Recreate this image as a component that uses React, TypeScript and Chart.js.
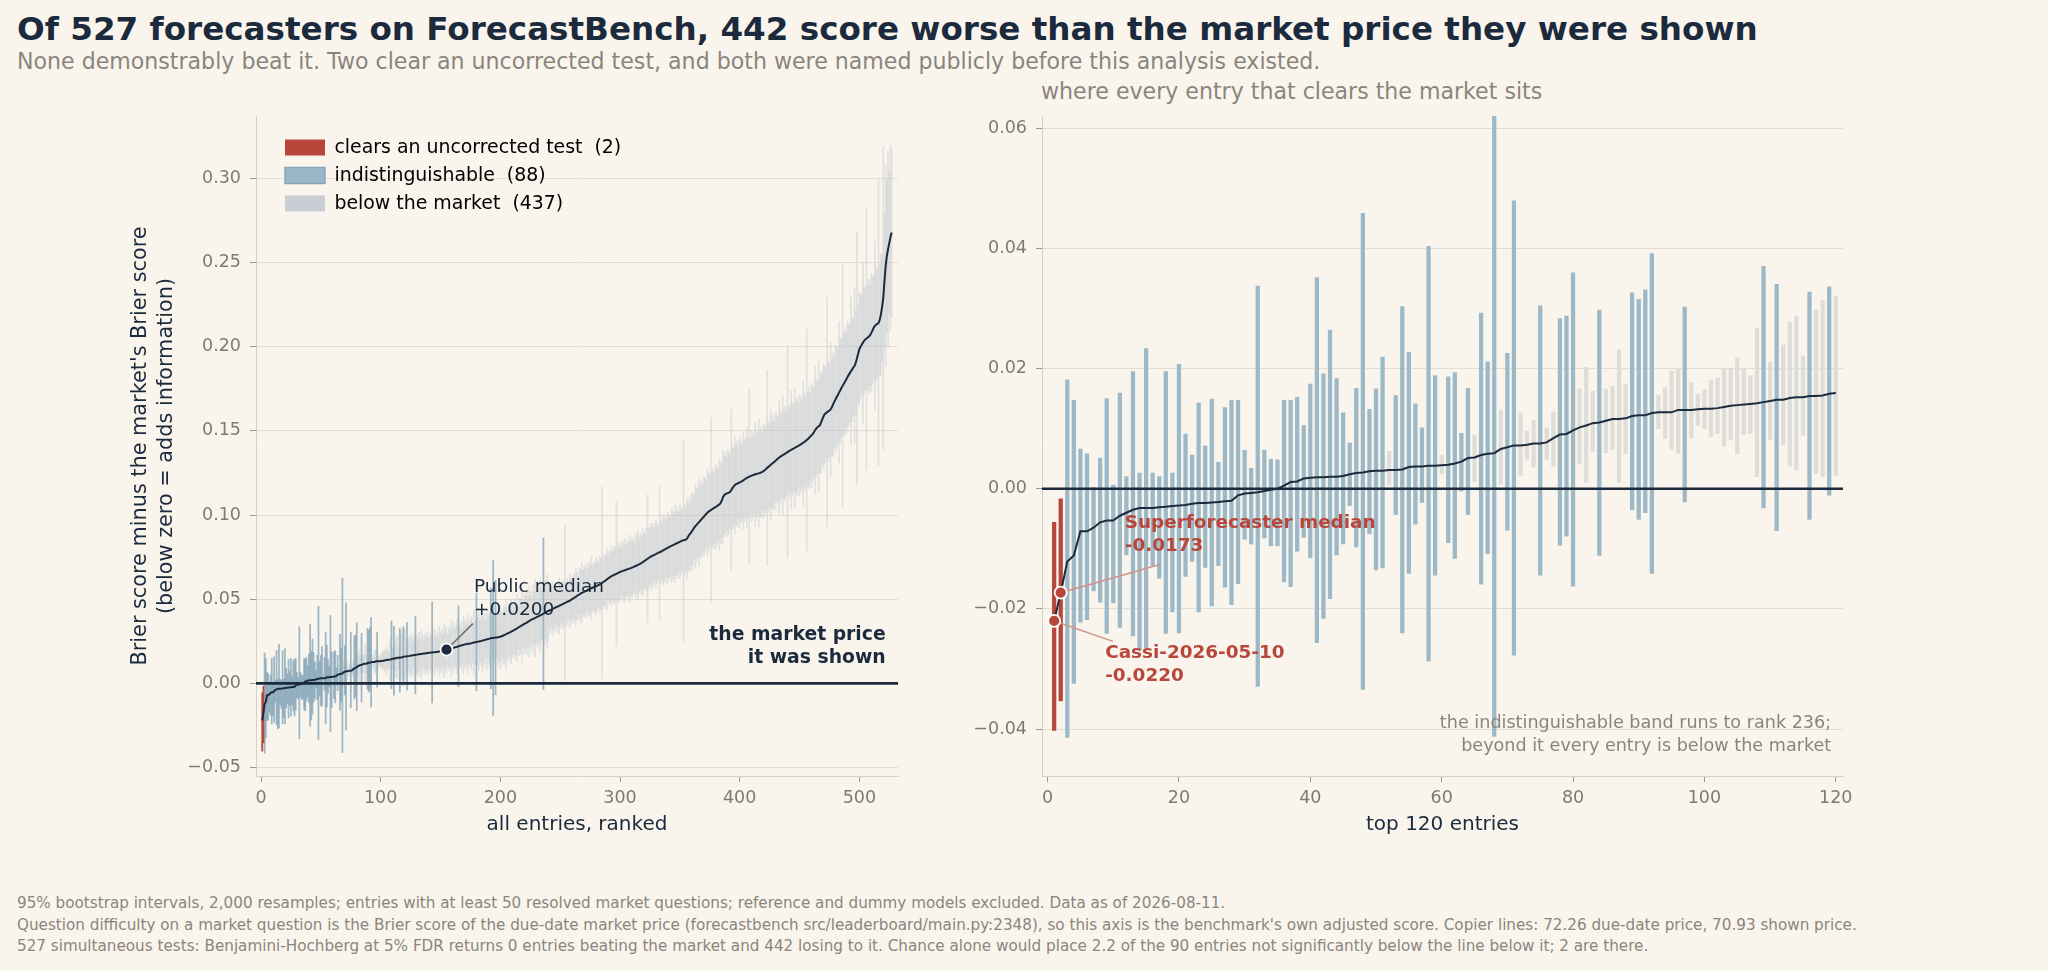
import { useEffect, useRef } from "react";
import { Chart, registerables } from "chart.js";
import type { ChartConfiguration, Plugin } from "chart.js";

Chart.register(...registerables);

const FONT = "'DejaVu Sans', sans-serif";
const BG = "#f9f5ed";
const INK = "#1b2a3c";
const MUTED = "#8a857c";
const TICK = "#7d7a75";
const TICK_MARK = "#9a968f";
const GRID = "#e3ded4";
const SPINE = "#d6d1c7";
const RED = "#b8463b";

// ranks 1-120
const TOP_SCORE = [
  -0.0220, -0.0173, -0.0121, -0.0111, -0.0071, -0.0071, -0.0065, -0.0056, -0.0053, -0.0053,
  -0.0045, -0.0040, -0.0035, -0.0032, -0.0032, -0.0032, -0.0031, -0.0030, -0.0029, -0.0028,
  -0.0027, -0.0025, -0.0024, -0.0024, -0.0023, -0.0022, -0.0021, -0.0020, -0.0011, -0.0008,
  -0.0007, -0.0006, -0.0004, -0.0002, 0.0000, 0.0005, 0.0011, 0.0012, 0.0017, 0.0018,
  0.0019, 0.0019, 0.0020, 0.0020, 0.0021, 0.0024, 0.0026, 0.0027, 0.0029, 0.0030,
  0.0030, 0.0031, 0.0031, 0.0032, 0.0036, 0.0037, 0.0037, 0.0038, 0.0038, 0.0039,
  0.0040, 0.0042, 0.0045, 0.0051, 0.0052, 0.0056, 0.0058, 0.0059, 0.0066, 0.0069,
  0.0072, 0.0072, 0.0073, 0.0075, 0.0075, 0.0077, 0.0084, 0.0090, 0.0091, 0.0097,
  0.0102, 0.0105, 0.0109, 0.0110, 0.0113, 0.0116, 0.0116, 0.0117, 0.0121, 0.0122,
  0.0122, 0.0126, 0.0127, 0.0127, 0.0127, 0.0131, 0.0131, 0.0131, 0.0132, 0.0133,
  0.0133, 0.0134, 0.0136, 0.0138, 0.0139, 0.0140, 0.0141, 0.0142, 0.0144, 0.0146,
  0.0148, 0.0148, 0.0151, 0.0152, 0.0152, 0.0154, 0.0154, 0.0155, 0.0158, 0.0159,
];
const TOP_LO = [
  -0.0402, -0.0353, -0.0414, -0.0324, -0.0222, -0.0218, -0.0170, -0.0189, -0.0241, -0.0190,
  -0.0231, -0.0110, -0.0245, -0.0269, -0.0265, -0.0128, -0.0149, -0.0241, -0.0205, -0.0240,
  -0.0146, -0.0121, -0.0205, -0.0131, -0.0195, -0.0128, -0.0164, -0.0193, -0.0158, -0.0084,
  -0.0092, -0.0329, -0.0082, -0.0095, -0.0095, -0.0155, -0.0163, -0.0104, -0.0081, -0.0115,
  -0.0256, -0.0216, -0.0183, -0.0110, -0.0092, -0.0028, -0.0097, -0.0334, -0.0075, -0.0135,
  -0.0132, 0.0006, -0.0043, -0.0240, -0.0141, -0.0059, -0.0023, -0.0287, -0.0144, 0.0025,
  -0.0090, -0.0116, -0.0004, -0.0043, 0.0012, -0.0159, -0.0108, -0.0412, 0.0007, -0.0069,
  -0.0277, 0.0022, 0.0049, 0.0036, -0.0144, 0.0049, 0.0038, -0.0094, -0.0079, -0.0162,
  0.0042, 0.0011, 0.0062, -0.0111, 0.0060, 0.0065, 0.0011, 0.0058, -0.0035, -0.0051,
  -0.0040, -0.0141, 0.0100, 0.0084, 0.0065, 0.0059, -0.0022, 0.0084, 0.0105, 0.0100,
  0.0087, 0.0092, 0.0071, 0.0082, 0.0058, 0.0090, 0.0092, 0.0020, -0.0032, 0.0082,
  -0.0070, 0.0073, 0.0038, 0.0031, 0.0089, -0.0051, 0.0025, 0.0020, -0.0011, 0.0022,
];
const TOP_HI = [
  -0.0056, -0.0017, 0.0181, 0.0147, 0.0066, 0.0058, 0.0002, 0.0051, 0.0150, 0.0006,
  0.0159, 0.0020, 0.0195, 0.0026, 0.0233, 0.0026, 0.0020, 0.0195, 0.0026, 0.0207,
  0.0091, 0.0056, 0.0143, 0.0071, 0.0149, 0.0044, 0.0135, 0.0147, 0.0147, 0.0064,
  0.0034, 0.0337, 0.0064, 0.0049, 0.0048, 0.0147, 0.0147, 0.0152, 0.0105, 0.0174,
  0.0351, 0.0191, 0.0264, 0.0183, 0.0126, 0.0076, 0.0167, 0.0458, 0.0132, 0.0166,
  0.0219, 0.0062, 0.0155, 0.0303, 0.0227, 0.0141, 0.0101, 0.0403, 0.0188, 0.0056,
  0.0186, 0.0193, 0.0092, 0.0167, 0.0089, 0.0292, 0.0211, 0.0625, 0.0130, 0.0225,
  0.0479, 0.0126, 0.0096, 0.0114, 0.0304, 0.0101, 0.0128, 0.0283, 0.0287, 0.0359,
  0.0166, 0.0202, 0.0162, 0.0297, 0.0166, 0.0170, 0.0231, 0.0174, 0.0326, 0.0315,
  0.0331, 0.0391, 0.0155, 0.0168, 0.0196, 0.0199, 0.0302, 0.0177, 0.0157, 0.0165,
  0.0181, 0.0184, 0.0199, 0.0199, 0.0217, 0.0200, 0.0188, 0.0267, 0.0370, 0.0210,
  0.0340, 0.0239, 0.0277, 0.0287, 0.0221, 0.0327, 0.0298, 0.0313, 0.0336, 0.0320,
];

// ranks 121-527; their intervals are drawn symmetric
const REST_SCORE = [
  0.0160, 0.0161, 0.0162, 0.0163, 0.0165, 0.0166, 0.0167, 0.0168, 0.0169, 0.0171,
  0.0172, 0.0173, 0.0174, 0.0175, 0.0176, 0.0177, 0.0178, 0.0179, 0.0180, 0.0181,
  0.0182, 0.0183, 0.0184, 0.0185, 0.0185, 0.0186, 0.0187, 0.0188, 0.0190, 0.0191,
  0.0193, 0.0195, 0.0197, 0.0198, 0.0200, 0.0202, 0.0204, 0.0206, 0.0208, 0.0210,
  0.0212, 0.0214, 0.0216, 0.0218, 0.0221, 0.0223, 0.0225, 0.0227, 0.0229, 0.0231,
  0.0232, 0.0234, 0.0235, 0.0236, 0.0237, 0.0239, 0.0241, 0.0243, 0.0245, 0.0246,
  0.0248, 0.0249, 0.0251, 0.0252, 0.0254, 0.0256, 0.0258, 0.0260, 0.0262, 0.0264,
  0.0266, 0.0268, 0.0269, 0.0270, 0.0271, 0.0272, 0.0273, 0.0274, 0.0275, 0.0277,
  0.0280, 0.0283, 0.0287, 0.0290, 0.0293, 0.0297, 0.0300, 0.0303, 0.0307, 0.0311,
  0.0315, 0.0319, 0.0323, 0.0327, 0.0332, 0.0336, 0.0341, 0.0345, 0.0349, 0.0353,
  0.0357, 0.0361, 0.0366, 0.0370, 0.0375, 0.0379, 0.0382, 0.0385, 0.0389, 0.0392,
  0.0396, 0.0399, 0.0403, 0.0407, 0.0410, 0.0414, 0.0418, 0.0422, 0.0426, 0.0430,
  0.0433, 0.0437, 0.0440, 0.0444, 0.0447, 0.0451, 0.0454, 0.0457, 0.0460, 0.0464,
  0.0467, 0.0471, 0.0474, 0.0478, 0.0481, 0.0485, 0.0488, 0.0492, 0.0496, 0.0501,
  0.0505, 0.0510, 0.0514, 0.0519, 0.0524, 0.0528, 0.0533, 0.0537, 0.0541, 0.0544,
  0.0548, 0.0551, 0.0555, 0.0558, 0.0562, 0.0565, 0.0568, 0.0571, 0.0574, 0.0577,
  0.0581, 0.0584, 0.0587, 0.0591, 0.0597, 0.0602, 0.0607, 0.0612, 0.0618, 0.0623,
  0.0628, 0.0633, 0.0637, 0.0641, 0.0644, 0.0648, 0.0651, 0.0655, 0.0658, 0.0662,
  0.0665, 0.0667, 0.0670, 0.0672, 0.0675, 0.0677, 0.0680, 0.0682, 0.0685, 0.0688,
  0.0691, 0.0694, 0.0697, 0.0700, 0.0704, 0.0707, 0.0711, 0.0715, 0.0720, 0.0725,
  0.0730, 0.0735, 0.0740, 0.0745, 0.0750, 0.0754, 0.0758, 0.0761, 0.0765, 0.0768,
  0.0772, 0.0775, 0.0779, 0.0782, 0.0786, 0.0790, 0.0794, 0.0798, 0.0802, 0.0806,
  0.0810, 0.0814, 0.0817, 0.0820, 0.0824, 0.0827, 0.0831, 0.0834, 0.0838, 0.0841,
  0.0845, 0.0848, 0.0850, 0.0852, 0.0854, 0.0860, 0.0872, 0.0884, 0.0893, 0.0903,
  0.0913, 0.0925, 0.0934, 0.0942, 0.0950, 0.0958, 0.0966, 0.0974, 0.0982, 0.0990,
  0.0998, 0.1006, 0.1014, 0.1020, 0.1025, 0.1030, 0.1035, 0.1039, 0.1044, 0.1048,
  0.1053, 0.1058, 0.1063, 0.1070, 0.1085, 0.1105, 0.1118, 0.1124, 0.1127, 0.1130,
  0.1133, 0.1138, 0.1148, 0.1160, 0.1170, 0.1178, 0.1183, 0.1187, 0.1190, 0.1194,
  0.1197, 0.1201, 0.1206, 0.1211, 0.1216, 0.1220, 0.1224, 0.1228, 0.1231, 0.1234,
  0.1237, 0.1239, 0.1242, 0.1244, 0.1246, 0.1248, 0.1250, 0.1253, 0.1256, 0.1262,
  0.1268, 0.1274, 0.1280, 0.1286, 0.1292, 0.1298, 0.1304, 0.1311, 0.1317, 0.1323,
  0.1330, 0.1336, 0.1342, 0.1347, 0.1351, 0.1356, 0.1360, 0.1365, 0.1369, 0.1374,
  0.1379, 0.1383, 0.1387, 0.1391, 0.1395, 0.1399, 0.1403, 0.1407, 0.1411, 0.1415,
  0.1420, 0.1424, 0.1429, 0.1434, 0.1439, 0.1445, 0.1452, 0.1459, 0.1466, 0.1473,
  0.1480, 0.1492, 0.1504, 0.1514, 0.1521, 0.1527, 0.1533, 0.1550, 0.1568, 0.1585,
  0.1599, 0.1605, 0.1611, 0.1616, 0.1621, 0.1627, 0.1640, 0.1656, 0.1672, 0.1686,
  0.1700, 0.1713, 0.1727, 0.1740, 0.1754, 0.1767, 0.1780, 0.1792, 0.1805, 0.1818,
  0.1831, 0.1843, 0.1854, 0.1865, 0.1876, 0.1886, 0.1905, 0.1930, 0.1958, 0.1985,
  0.1999, 0.2012, 0.2024, 0.2035, 0.2042, 0.2048, 0.2054, 0.2060, 0.2068, 0.2082,
  0.2096, 0.2112, 0.2124, 0.2130, 0.2135, 0.2140, 0.2158, 0.2190, 0.2235, 0.2290,
  0.2390, 0.2480, 0.2540, 0.2580, 0.2615, 0.2650, 0.2678,
];
const REST_HALF = [
  0.011, 0.020, 0.009, 0.012, 0.010, 0.013, 0.008, 0.011, 0.023, 0.012,
  0.010, 0.013, 0.009, 0.014, 0.011, 0.008, 0.012, 0.010, 0.013, 0.009,
  0.012, 0.010, 0.030, 0.011, 0.014, 0.009, 0.012, 0.010, 0.015, 0.011,
  0.013, 0.010, 0.016, 0.012, 0.014, 0.009, 0.013, 0.011, 0.017, 0.012,
  0.015, 0.011, 0.013, 0.016, 0.024, 0.012, 0.014, 0.010, 0.017, 0.013,
  0.015, 0.012, 0.018, 0.011, 0.014, 0.016, 0.012, 0.019, 0.013, 0.029,
  0.014, 0.017, 0.012, 0.015, 0.019, 0.013, 0.016, 0.011, 0.018, 0.014,
  0.016, 0.030, 0.013, 0.046, 0.015, 0.034, 0.012, 0.017, 0.014, 0.019,
  0.015, 0.013, 0.018, 0.016, 0.021, 0.014, 0.017, 0.013, 0.019, 0.016,
  0.014, 0.018, 0.015, 0.020, 0.013, 0.017, 0.016, 0.022, 0.014, 0.018,
  0.016, 0.019, 0.015, 0.021, 0.017, 0.014, 0.020, 0.016, 0.023, 0.015,
  0.018, 0.016, 0.021, 0.017, 0.015, 0.045, 0.019, 0.016, 0.022, 0.018,
  0.012, 0.014, 0.011, 0.016, 0.013, 0.010, 0.015, 0.012, 0.017, 0.013,
  0.011, 0.015, 0.013, 0.046, 0.012, 0.014, 0.011, 0.016, 0.013, 0.012,
  0.015, 0.013, 0.017, 0.014, 0.011, 0.016, 0.014, 0.018, 0.013, 0.015,
  0.014, 0.016, 0.012, 0.016, 0.014, 0.019, 0.013, 0.015, 0.014, 0.017,
  0.015, 0.013, 0.017, 0.015, 0.057, 0.014, 0.016, 0.015, 0.018, 0.013,
  0.016, 0.015, 0.018, 0.014, 0.017, 0.016, 0.043, 0.015, 0.018, 0.016,
  0.014, 0.018, 0.016, 0.019, 0.015, 0.017, 0.016, 0.020, 0.016, 0.018,
  0.016, 0.015, 0.019, 0.017, 0.021, 0.016, 0.018, 0.016, 0.020, 0.017,
  0.016, 0.019, 0.038, 0.018, 0.016, 0.020, 0.017, 0.019, 0.016, 0.020,
  0.018, 0.016, 0.040, 0.019, 0.017, 0.021, 0.018, 0.020, 0.017, 0.021,
  0.019, 0.017, 0.022, 0.020, 0.018, 0.023, 0.019, 0.021, 0.018, 0.022,
  0.020, 0.018, 0.060, 0.021, 0.019, 0.024, 0.020, 0.022, 0.019, 0.023,
  0.021, 0.019, 0.025, 0.022, 0.020, 0.026, 0.021, 0.023, 0.020, 0.024,
  0.022, 0.020, 0.026, 0.023, 0.021, 0.055, 0.022, 0.024, 0.021, 0.025,
  0.023, 0.021, 0.027, 0.024, 0.022, 0.028, 0.023, 0.025, 0.022, 0.026,
  0.024, 0.022, 0.048, 0.025, 0.023, 0.029, 0.024, 0.026, 0.022, 0.027,
  0.024, 0.022, 0.029, 0.025, 0.023, 0.030, 0.024, 0.052, 0.023, 0.027,
  0.025, 0.023, 0.031, 0.026, 0.024, 0.032, 0.025, 0.027, 0.023, 0.028,
  0.026, 0.024, 0.058, 0.027, 0.025, 0.033, 0.026, 0.028, 0.024, 0.029,
  0.026, 0.025, 0.034, 0.027, 0.025, 0.035, 0.026, 0.028, 0.025, 0.063,
  0.027, 0.025, 0.035, 0.028, 0.026, 0.036, 0.027, 0.029, 0.025, 0.030,
  0.028, 0.026, 0.037, 0.029, 0.027, 0.066, 0.028, 0.030, 0.026, 0.031,
  0.028, 0.027, 0.038, 0.029, 0.027, 0.039, 0.028, 0.030, 0.027, 0.031,
  0.029, 0.027, 0.068, 0.030, 0.028, 0.040, 0.029, 0.031, 0.027, 0.032,
  0.030, 0.028, 0.042, 0.031, 0.029, 0.072, 0.030, 0.032, 0.028, 0.033,
  0.030, 0.029, 0.044, 0.031, 0.029, 0.046, 0.031, 0.075, 0.029, 0.034,
  0.031, 0.030, 0.048, 0.032, 0.030, 0.078, 0.031, 0.034, 0.030, 0.035,
  0.032, 0.031, 0.050, 0.034, 0.032, 0.085, 0.033, 0.036, 0.032, 0.090,
  0.040, 0.060, 0.045, 0.058, 0.042, 0.055, 0.050,
];

const PUBLIC_MEDIAN = 0.02;
const CASSI_RANK = 1;
const SUPERFORECASTER_RANK = 2;

const TITLE = "Of 527 forecasters on ForecastBench, 442 score worse than the market price they were shown";
const SUBTITLE =
  "None demonstrably beat it. Two clear an uncorrected test, and both were named publicly before this analysis existed.";
const RIGHT_TITLE = "where every entry that clears the market sits";
const FOOTER = [
  "95% bootstrap intervals, 2,000 resamples; entries with at least 50 resolved market questions; reference and dummy models excluded. Data as of 2026-08-11.",
  "Question difficulty on a market question is the Brier score of the due-date market price (forecastbench src/leaderboard/main.py:2348), so this axis is the benchmark's own adjusted score. Copier lines: 72.26 due-date price, 70.93 shown price.",
  "527 simultaneous tests: Benjamini-Hochberg at 5% FDR returns 0 entries beating the market and 442 losing to it. Chance alone would place 2.2 of the 90 entries not significantly below the line below it; 2 are there.",
];

type Entry = { rank: number; score: number; lo: number; hi: number };

const ENTRIES: Entry[] = [
  ...TOP_SCORE.map((score, i) => ({ rank: i + 1, score, lo: TOP_LO[i], hi: TOP_HI[i] })),
  ...REST_SCORE.map((score, i) => ({
    rank: TOP_SCORE.length + 1 + i,
    score,
    lo: score - REST_HALF[i],
    hi: score + REST_HALF[i],
  })),
];

const CATEGORIES = [
  { label: "clears an uncorrected test", test: (e: Entry) => e.hi < 0, fill: RED, stroke: RED, strokeWidth: 0 },
  { label: "indistinguishable", test: (e: Entry) => e.lo <= 0 && e.hi >= 0, fill: "#9bb7c8", stroke: "#86a6ba", strokeWidth: 1.5 },
  { label: "below the market", test: (e: Entry) => e.lo > 0, fill: "#c9ced4", stroke: "#c9ced4", strokeWidth: 0 },
];
const COUNTS = CATEGORIES.map((c) => ENTRIES.filter(c.test).length);

const byRank = (rank: number) => ENTRIES[rank - 1];
const publicRank = ENTRIES.reduce((best, e) =>
  Math.abs(e.score - PUBLIC_MEDIAN) < Math.abs(best.score - PUBLIC_MEDIAN) ? e : best
).rank;
const signed = (v: number) => (v >= 0 ? "+" : "-") + Math.abs(v).toFixed(4);

type Note = { x: number; y: number; lines: string[]; align: CanvasTextAlign; color: string; bold?: boolean; size: number };
type Leader = { rank: number; x: number; y: number; color: string };
type Panel = {
  left: number; top: number; width: number; height: number;
  entries: Entry[];
  x: [number, number, number];
  y: [number, number, number];
  xTitle: string;
  yTitle?: string[];
  yWidth: number;
  padRight: number;
  barThickness: number;
  barColors: string[];
  markers: { rank: number; color: string }[];
  notes: Note[];
  leaders: Leader[];
  legend: boolean;
};

const LEFT: Panel = {
  left: 100, top: 100, width: 820, height: 760,
  entries: ENTRIES,
  x: [-4.2, 532.3, 100],
  y: [-0.055, 0.337, 0.05],
  xTitle: "all entries, ranked",
  yTitle: ["Brier score minus the market's Brier score", "(below zero = adds information)"],
  yWidth: 156,
  padRight: 22,
  barThickness: 1.1,
  barColors: [RED, "rgba(122,158,180,0.72)", "rgba(192,198,204,0.42)"],
  markers: [{ rank: publicRank, color: INK }],
  notes: [
    { x: 178, y: 0.057, lines: ["Public median", signed(PUBLIC_MEDIAN)], align: "left", color: INK, size: 18.5 },
    { x: 522, y: 0.0285, lines: ["the market price", "it was shown"], align: "right", color: INK, bold: true, size: 18.8 },
  ],
  leaders: [{ rank: publicRank, x: 177, y: 0.0355, color: "#6f6f6f" }],
  legend: true,
};

const RIGHT: Panel = {
  left: 960, top: 100, width: 920, height: 760,
  entries: ENTRIES.slice(0, 120),
  x: [-0.85, 121.1, 20],
  y: [-0.0478, 0.062, 0.02],
  xTitle: "top 120 entries",
  yWidth: 82,
  padRight: 37,
  barThickness: 3.6,
  barColors: [RED, "#9db8c6", "#dfddd8"],
  markers: [
    { rank: CASSI_RANK, color: RED },
    { rank: SUPERFORECASTER_RANK, color: RED },
  ],
  notes: [
    { x: 11.75, y: -0.0058, lines: ["Superforecaster median", signed(byRank(SUPERFORECASTER_RANK).score)], align: "left", color: RED, bold: true, size: 18.4 },
    { x: 8.77, y: -0.0274, lines: ["Cassi-2026-05-10", signed(byRank(CASSI_RANK).score)], align: "left", color: RED, bold: true, size: 18.4 },
    {
      x: 119.3, y: -0.0391,
      lines: ["the indistinguishable band runs to rank 236;", "beyond it every entry is below the market"],
      align: "right", color: MUTED, size: 17.6,
    },
  ],
  leaders: [
    { rank: SUPERFORECASTER_RANK, x: 17.1, y: -0.0126, color: "#d3918a" },
    { rank: CASSI_RANK, x: 9.95, y: -0.0254, color: "#d3918a" },
  ],
  legend: false,
};

const LINE_INDEX = 3;
const MARKER_INDEX = 4;
const LEGEND_FONT = 18.9;
const LEGEND_GAP = 9.1;
const LEGEND_OFFSET = { x: 19.9, y: 13.05 };

const tickLabel = (v: number | string) => {
  const n = Number(v);
  return (n < -1e-9 ? "\u2212" : "") + Math.abs(n).toFixed(2);
};

function panelPlugin(panel: Panel): Plugin<"bar"> {
  return {
    id: "panelNotes",
    afterLayout(chart) {
      if (panel.legend && chart.legend) {
        chart.legend.left = chart.chartArea.left + LEGEND_OFFSET.x;
        chart.legend.top = chart.chartArea.top + LEGEND_OFFSET.y;
      }
    },
    beforeDatasetDraw(chart, args) {
      const { ctx, chartArea: a, scales } = chart;
      if (args.index === LINE_INDEX) {
        const py = scales.y.getPixelForValue(0);
        ctx.save();
        ctx.strokeStyle = INK;
        ctx.lineWidth = 2.6;
        ctx.beginPath();
        ctx.moveTo(a.left, py);
        ctx.lineTo(a.right, py);
        ctx.stroke();
        ctx.restore();
      }
      if (args.index === MARKER_INDEX) {
        ctx.save();
        ctx.lineWidth = 1.5;
        for (const l of panel.leaders) {
          const e = byRank(l.rank);
          ctx.strokeStyle = l.color;
          ctx.beginPath();
          ctx.moveTo(scales.x.getPixelForValue(e.rank), scales.y.getPixelForValue(e.score));
          ctx.lineTo(scales.x.getPixelForValue(l.x), scales.y.getPixelForValue(l.y));
          ctx.stroke();
        }
        ctx.restore();
      }
    },
    afterDatasetsDraw(chart) {
      const { ctx, scales } = chart;
      for (const n of panel.notes) {
        ctx.save();
        ctx.font = `${n.bold ? "bold " : ""}${n.size}px ${FONT}`;
        ctx.fillStyle = n.color;
        ctx.textAlign = n.align;
        ctx.textBaseline = "middle";
        const px = scales.x.getPixelForValue(n.x);
        const py = scales.y.getPixelForValue(n.y);
        n.lines.forEach((line, i) => ctx.fillText(line, px, py + i * 22.5));
        ctx.restore();
      }
    },
  };
}

function buildConfig(panel: Panel): ChartConfiguration<"bar"> {
  const bars = CATEGORIES.map((c, i) => ({
    type: "bar" as const,
    label: c.label,
    data: panel.entries.filter(c.test).map((e) => ({ x: e.rank, y: [e.lo, e.hi] })),
    backgroundColor: panel.barColors[i],
    borderWidth: 0,
    barThickness: panel.barThickness,
    grouped: false,
    order: 3 + i,
  }));
  const line = {
    type: "line" as const,
    label: "score",
    data: panel.entries.map((e) => ({ x: e.rank, y: e.score })),
    borderColor: INK,
    borderWidth: 2,
    pointRadius: 0,
    tension: 0,
    order: 1,
  };
  const markers = {
    type: "line" as const,
    label: "named",
    data: panel.markers.map((m) => ({ x: m.rank, y: byRank(m.rank).score })),
    showLine: false,
    pointRadius: 6,
    pointBackgroundColor: panel.markers.map((m) => m.color),
    pointBorderColor: "#ffffff",
    pointBorderWidth: 1.8,
    order: 0,
  };

  return {
    type: "bar",
    data: { datasets: [...bars, line, markers] as any },
    options: {
      responsive: false,
      animation: false,
      events: [],
      layout: { padding: { left: 0, top: 16, right: panel.padRight, bottom: 0 } },
      scales: {
        x: {
          type: "linear",
          min: panel.x[0],
          max: panel.x[1],
          offset: false,
          ticks: {
            stepSize: panel.x[2],
            includeBounds: false,
            autoSkip: false,
            maxRotation: 0,
            color: TICK,
            padding: 6,
            font: { size: 17.5, family: FONT },
          },
          grid: { drawOnChartArea: false, drawTicks: true, tickLength: 6, tickColor: TICK_MARK, offset: false },
          border: { display: true, color: SPINE, width: 1 },
          title: {
            display: true,
            text: panel.xTitle,
            color: INK,
            font: { size: 20, family: FONT },
            padding: { top: 0, bottom: 23 },
          },
          afterFit: (s: any) => {
            s.height = 84;
            s.paddingLeft = 0;
            s.paddingRight = 0;
          },
        },
        y: {
          type: "linear",
          min: panel.y[0],
          max: panel.y[1],
          ticks: {
            stepSize: panel.y[2],
            includeBounds: false,
            callback: tickLabel,
            color: TICK,
            padding: 9,
            font: { size: 17.5, family: FONT },
          },
          grid: { color: GRID, lineWidth: 1, drawTicks: true, tickLength: 6, tickColor: TICK_MARK },
          border: { display: true, color: SPINE, width: 1 },
          title: {
            display: !!panel.yTitle,
            text: panel.yTitle ?? "",
            color: INK,
            font: { size: 20.8, family: FONT, lineHeight: 1.25 },
            padding: { top: 28, bottom: 0 },
          },
          afterFit: (s: any) => {
            s.width = panel.yWidth;
            s.paddingTop = 0;
            s.paddingBottom = 0;
          },
        },
      },
      plugins: {
        tooltip: { enabled: false },
        legend: {
          display: panel.legend,
          position: "chartArea",
          align: "start",
          labels: {
            boxWidth: 40,
            boxHeight: 16,
            padding: LEGEND_GAP,
            color: "#263240",
            font: { size: LEGEND_FONT, family: FONT },
            generateLabels: () =>
              CATEGORIES.map((c, i) => ({
                text: `${c.label}  (${COUNTS[i]})`,
                fillStyle: c.fill,
                strokeStyle: c.stroke,
                lineWidth: c.strokeWidth,
                hidden: false,
                datasetIndex: i,
              })),
          },
        },
      },
    },
    plugins: [panelPlugin(panel)],
  };
}

function PanelChart({ panel }: { panel: Panel }) {
  const ref = useRef<HTMLCanvasElement>(null);
  useEffect(() => {
    if (!ref.current) return;
    const chart = new Chart(ref.current, buildConfig(panel));
    return () => chart.destroy();
  }, [panel]);
  return (
    <canvas
      ref={ref}
      width={panel.width}
      height={panel.height}
      style={{ position: "absolute", left: panel.left, top: panel.top, width: panel.width, height: panel.height }}
    />
  );
}

export default function App() {
  Chart.defaults.font.family = FONT;
  return (
    <div
      style={{
        position: "absolute",
        left: 0,
        top: 0,
        width: 2048,
        height: 971,
        background: BG,
        fontFamily: FONT,
        overflow: "hidden",
      }}
    >
      <div style={{ position: "absolute", left: 17, top: 10, fontSize: 32.6, lineHeight: "38px", fontWeight: "bold", color: INK, whiteSpace: "nowrap" }}>
        {TITLE}
      </div>
      <div style={{ position: "absolute", left: 17, top: 48, fontSize: 22.1, lineHeight: "27px", color: MUTED, whiteSpace: "nowrap" }}>
        {SUBTITLE}
      </div>
      <div style={{ position: "absolute", left: 1041, top: 78, fontSize: 22.1, lineHeight: "27px", color: MUTED, whiteSpace: "nowrap" }}>
        {RIGHT_TITLE}
      </div>
      <PanelChart panel={LEFT} />
      <PanelChart panel={RIGHT} />
      <div style={{ position: "absolute", left: 17, top: 893, fontSize: 15.2, lineHeight: "21.5px", color: MUTED, whiteSpace: "nowrap" }}>
        {FOOTER.map((line) => (
          <div key={line}>{line}</div>
        ))}
      </div>
    </div>
  );
}
